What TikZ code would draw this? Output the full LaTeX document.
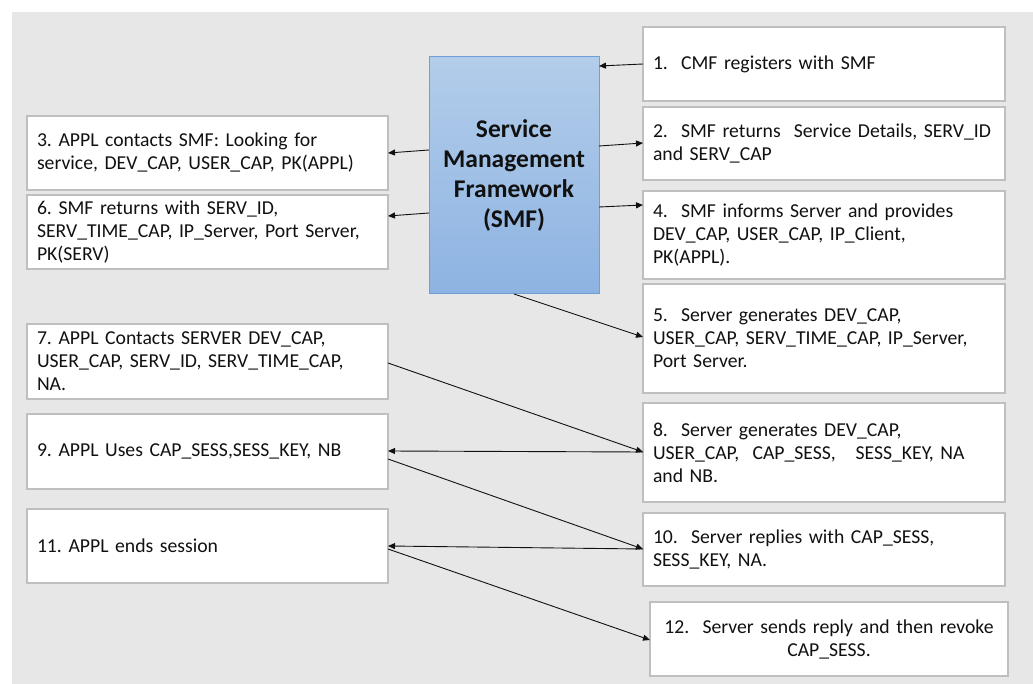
\documentclass[tikz,border=0pt]{standalone}
\usepackage{fontspec}
\setmainfont{Carlito}
\usetikzlibrary{arrows.meta}
\definecolor{bggray}{HTML}{E7E7E7}
\definecolor{boxline}{HTML}{BFBFBF}
\definecolor{smftop}{HTML}{B3CDEA}
\definecolor{smfbot}{HTML}{8DB3E2}
\definecolor{smfline}{HTML}{6F9FD8}
\definecolor{ink}{HTML}{111111}
\frenchspacing
\begin{document}
\begin{tikzpicture}[x=1pt,y=-1pt,
  msgbox/.style={draw=boxline, line width=1.3pt, fill=white, inner xsep=10pt,
    inner ysep=0pt, text width=342pt, align=left, outer sep=0pt,
    font=\fontsize{19.7}{23}\selectfont, text=ink},
  smfbox/.style={draw=smfline, line width=1pt, top color=smftop, bottom color=smfbot,
    minimum width=170pt, minimum height=237pt, align=center, outer sep=0pt,
    font=\fontsize{25.5}{30}\selectfont\bfseries, text=ink},
  arr/.style={draw=ink, line width=0.9pt, -{Triangle[length=7pt,width=6pt]}}
]
% canvas
\fill[white] (0,0) rectangle (1033,684);
\fill[bggray] (12,12) rectangle (1033,684);

% central framework
\node[smfbox] (smf) at (514,175.5) {Service\\Management\\Framework\\(SMF)};

% server side messages
\node[msgbox, minimum height=74pt] (b1) at (824,64) {1.\ \ CMF registers with SMF};
\node[msgbox, minimum height=73pt] (b2) at (824,143.5) {2.\ \ SMF returns\ \ Service Details,~SERV\_ID\\and SERV\_CAP};
\node[msgbox, minimum height=88pt] (b4) at (824,235) {4.\ \ SMF informs Server and provides\\DEV\_CAP, USER\_CAP, IP\_Client,\\PK(APPL).};
\node[msgbox, minimum height=109pt] (b5) at (824,338.5) {5.\ \ Server generates DEV\_CAP,\\USER\_CAP, SERV\_TIME\_CAP, IP\_Server,\\Port Server.};
\node[msgbox, minimum height=99pt] (b8) at (824,452.5) {8.\ \ Server generates DEV\_CAP,\\USER\_CAP,\ \ CAP\_SESS,\ \ \ SESS\_KEY, NA\\and NB.};
\node[msgbox, minimum height=73pt] (b10) at (824,549.5) {10.\ \ Server replies with CAP\_SESS,\\SESS\_KEY, NA.};
\node[msgbox, minimum height=74pt, text width=338pt, align=center] (b12) at (829,639) {12.\ \ Server sends reply and then revoke\\CAP\_SESS.};

% application side messages
\node[msgbox, minimum height=74pt, text width=341pt] (b3) at (207.5,153) {3. APPL contacts SMF: Looking for\\service, DEV\_CAP, USER\_CAP, PK(APPL)};
\node[msgbox, minimum height=74pt, text width=341pt] (b6) at (207.5,232) {6. SMF returns with SERV\_ID,\\SERV\_TIME\_CAP, IP\_Server, Port Server,\\PK(SERV)};
\node[msgbox, minimum height=75pt, text width=341pt] (b7) at (207.5,361.5) {7. APPL Contacts SERVER DEV\_CAP,\\USER\_CAP, SERV\_ID, SERV\_TIME\_CAP,\\NA.};
\node[msgbox, minimum height=75pt, text width=341pt] (b9) at (207.5,451.5) {9. APPL Uses CAP\_SESS,SESS\_KEY, NB};
\node[msgbox, minimum height=74pt, text width=341pt] (b11) at (207.5,546) {11. APPL ends session};

% message flow
\draw[arr] (b1.west) -- (smf.east |- 0,66);
\draw[arr] (smf.east |- 0,146) -- (b2.west |- 0,143);
\draw[arr] (smf.west |- 0,150) -- (b3.east |- 0,153);
\draw[arr] (smf.east |- 0,207) -- (b4.west |- 0,205);
\draw[arr] (smf.south) -- (b5.west |- 0,337);
\draw[arr] (smf.west |- 0,213) -- (b6.east |- 0,216);
\draw[arr] (b7.east |- 0,363) -- (b8.west |- 0,452);
\draw[arr] (b8.west |- 0,452) -- (b9.east |- 0,451);
\draw[arr] (b9.east |- 0,459) -- (b10.west |- 0,549);
\draw[arr] (b10.west |- 0,549) -- (b11.east |- 0,546);
\draw[arr] (b11.east |- 0,549) -- (b12.west |- 0,640);
\end{tikzpicture}
\end{document}
